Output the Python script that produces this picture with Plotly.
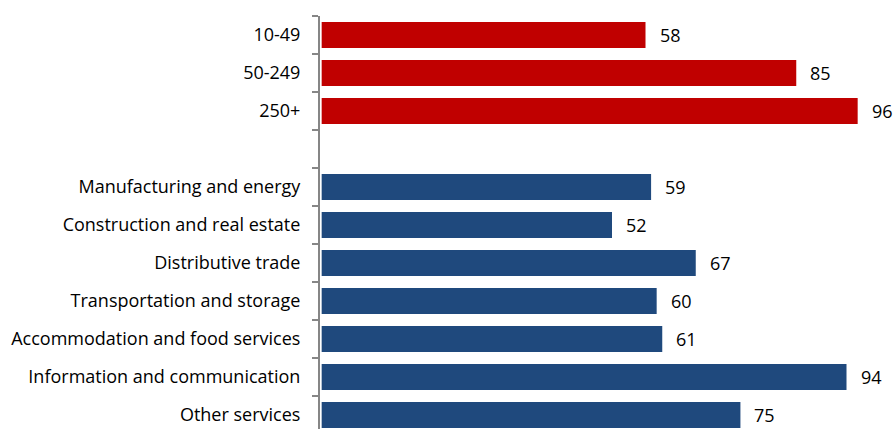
import plotly.graph_objects as go

# Enterprise size classes and sectors, top to bottom
size_classes = ["10-49", "50-249", "250+"]
size_values = [58, 85, 96]

sectors = [
    "Manufacturing and energy",
    "Construction and real estate",
    "Distributive trade",
    "Transportation and storage",
    "Accommodation and food services",
    "Information and communication",
    "Other services",
]
sector_values = [59, 52, 67, 60, 61, 94, 75]

RED = "#C00000"
BLUE = "#1F497D"
AXIS_GREY = "#868686"
FONT = "Open Sans"
FONT_SIZE = 18

spacer = " "  # empty row separating the two groups
category_order = size_classes + [spacer] + sectors

fig = go.Figure()
fig.add_trace(go.Bar(
    y=size_classes, x=size_values, orientation="h",
    marker=dict(color=RED, line=dict(width=0)), width=0.68,
    hoverinfo="x+y",
))
fig.add_trace(go.Bar(
    y=sectors, x=sector_values, orientation="h",
    marker=dict(color=BLUE, line=dict(width=0)), width=0.68,
    hoverinfo="x+y",
))

# Value labels to the right of each bar
for cats, vals in ((size_classes, size_values), (sectors, sector_values)):
    for c, v in zip(cats, vals):
        fig.add_annotation(
            x=v, y=c, text=str(v), showarrow=False,
            xanchor="left", yanchor="middle", xshift=12,
            font=dict(family=FONT, size=FONT_SIZE, color="#000000"),
        )

fig.update_layout(
    width=896, height=429,
    margin=dict(l=320, r=16, t=16, b=0, pad=0),
    paper_bgcolor="white", plot_bgcolor="white",
    showlegend=False, barmode="overlay",
    font=dict(family=FONT, size=FONT_SIZE, color="#000000"),
)
fig.update_xaxes(
    range=[-0.3, 100], showgrid=False, zeroline=False,
    showticklabels=False, ticks="", showline=False,
)
fig.update_yaxes(
    type="category", categoryorder="array", categoryarray=category_order,
    range=[10.368, -0.5],
    showgrid=False, zeroline=False,
    showline=True, linecolor=AXIS_GREY, linewidth=2,
    ticks="outside", tickson="boundaries", ticklen=6, tickwidth=2,
    tickcolor=AXIS_GREY, ticklabelstandoff=14,
    tickfont=dict(family=FONT, size=FONT_SIZE, color="#000000"),
)

fig.write_html("out.html")
